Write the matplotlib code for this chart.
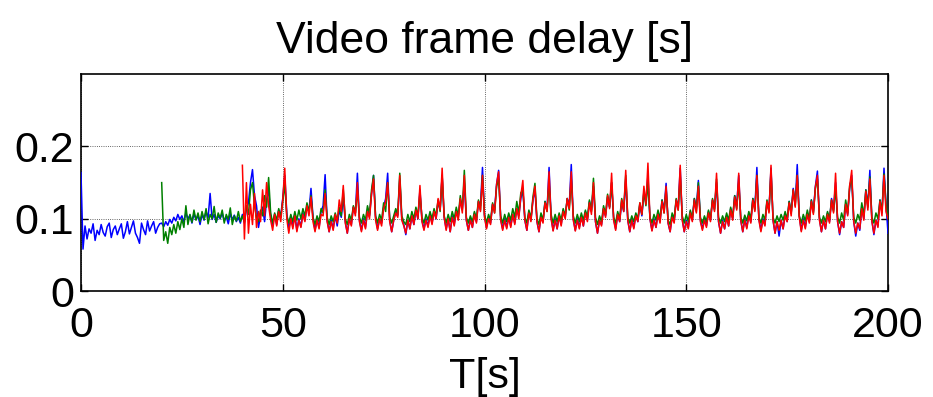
import numpy as np
import matplotlib
matplotlib.use("Agg")
import matplotlib.pyplot as plt

# sample step 0.5 s; values in milliseconds (delay*1000)
STEP = 0.5
blue_start = 0.0
blue_ms = [
    164, 58, 90, 72, 86, 80, 93, 70, 84, 78,
    92, 81, 76, 89, 94, 74, 85, 90, 78, 86,
    93, 73, 82, 96, 79, 88, 97, 80, 74, 66,
    94, 85, 78, 97, 83, 90, 96, 80, 88, 93,
    94, 89, 96, 91, 99, 94, 102, 97, 106, 99,
    104, 96, 108, 100, 105, 94, 107, 99, 104, 92,
    106, 98, 110, 101, 135, 99, 106, 95, 104, 100,
    108, 97, 103, 93, 107, 99, 105, 96, 102, 94,
    106, 94, 114, 122, 150, 168, 132, 118, 88, 106,
    116, 96, 126, 140, 104, 90, 106, 92, 112, 104,
    128, 160, 108, 86, 102, 90, 106, 84, 100, 89,
    108, 98, 118, 110, 142, 102, 84, 100, 88, 110,
    118, 161, 98, 82, 98, 86, 104, 90, 112, 102,
    130, 96, 80, 100, 92, 116, 108, 163, 98, 84,
    100, 88, 112, 104, 134, 160, 102, 86, 100, 94,
    116, 128, 163, 98, 82, 98, 110, 104, 155, 100,
    92, 78, 98, 86, 104, 92, 112, 100, 140, 98,
    86, 100, 90, 106, 94, 110, 100, 124, 112, 160,
    102, 86, 100, 82, 104, 92, 112, 102, 126, 114,
    150, 98, 84, 100, 88, 108, 96, 124, 118, 171,
    104, 88, 102, 94, 120, 112, 148, 167, 100, 86,
    100, 88, 104, 90, 106, 94, 114, 104, 128, 140,
    98, 84, 110, 98, 126, 140, 96, 82, 104, 96,
    124, 112, 171, 102, 84, 100, 86, 104, 92, 112,
    102, 128, 118, 175, 100, 84, 100, 88, 104, 90,
    110, 98, 124, 112, 145, 96, 80, 98, 92, 114,
    104, 130, 116, 150, 100, 86, 106, 96, 124, 110,
    155, 98, 82, 100, 88, 106, 96, 120, 104, 136,
    122, 160, 100, 84, 100, 88, 108, 96, 126, 112,
    149, 94, 82, 104, 96, 126, 116, 170, 100, 82,
    98, 88, 110, 98, 128, 114, 153, 98, 86, 100,
    90, 110, 98, 126, 114, 150, 96, 80, 98, 86,
    104, 90, 114, 100, 132, 118, 160, 98, 82, 100,
    88, 106, 96, 128, 114, 171, 100, 84, 100, 92,
    124, 112, 170, 98, 80, 96, 76, 98, 86, 106,
    96, 124, 108, 142, 120, 175, 104, 84, 100, 88,
    108, 96, 126, 110, 145, 166, 100, 82, 98, 86,
    108, 96, 128, 112, 150, 96, 78, 96, 88, 120,
    106, 142, 160, 96, 76, 94, 84, 116, 100, 140,
    118, 167, 98, 78, 98, 90, 126, 108, 170, 120,
    80,
]

green_start = 20.0
green_ms = [
    150, 70, 82, 66, 88, 78, 92, 80, 96, 85,
    100, 88, 118, 92, 106, 95, 112, 98, 108, 96,
    110, 99, 114, 93, 106, 100, 117, 95, 108, 101,
    112, 94, 106, 99, 115, 92, 104, 97, 110, 96,
    104, 96, 118, 106, 140, 150, 118, 102, 96, 112,
    104, 132, 116, 157, 108, 94, 108, 98, 114, 102,
    124, 148, 104, 94, 106, 96, 110, 98, 112, 100,
    114, 104, 122, 110, 132, 102, 92, 104, 96, 114,
    108, 140, 102, 92, 104, 96, 108, 98, 116, 104,
    140, 100, 92, 106, 98, 118, 108, 140, 102, 94,
    106, 98, 118, 106, 140, 160, 104, 94, 106, 98,
    122, 110, 150, 102, 94, 104, 114, 106, 163, 104,
    96, 92, 106, 96, 110, 100, 116, 104, 135, 102,
    94, 106, 98, 110, 100, 114, 104, 126, 110, 160,
    104, 94, 106, 96, 110, 100, 116, 104, 132, 112,
    167, 102, 94, 104, 96, 110, 100, 126, 112, 160,
    106, 94, 106, 98, 122, 108, 145, 155, 104, 94,
    106, 96, 108, 98, 114, 102, 124, 108, 136, 140,
    102, 94, 112, 100, 130, 149, 100, 92, 108, 98,
    124, 110, 150, 106, 94, 106, 96, 108, 98, 114,
    104, 128, 112, 155, 104, 94, 106, 96, 108, 98,
    112, 102, 126, 110, 156, 102, 92, 104, 96, 118,
    106, 134, 116, 150, 102, 94, 110, 100, 128, 112,
    160, 102, 94, 104, 96, 108, 100, 122, 106, 138,
    118, 150, 102, 94, 106, 98, 112, 100, 126, 108,
    142, 98, 92, 108, 100, 128, 112, 160, 104, 94,
    106, 96, 112, 100, 128, 110, 150, 102, 94, 104,
    96, 112, 100, 128, 112, 155, 102, 94, 104, 96,
    108, 98, 116, 102, 132, 114, 150, 102, 94, 105,
    97, 110, 100, 128, 112, 160, 102, 94, 106, 98,
    126, 110, 165, 102, 94, 104, 96, 106, 98, 110,
    100, 124, 108, 140, 118, 160, 104, 94, 106, 97,
    112, 100, 126, 108, 142, 155, 102, 94, 104, 96,
    110, 100, 126, 110, 142, 102, 94, 108, 98, 126,
    108, 146, 155, 102, 94, 106, 98, 122, 104, 140,
    116, 158, 102, 94, 108, 100, 126, 110, 162, 120,
    100,
]

red_start = 40.0
red_ms = [
    174, 72, 150, 80, 120, 92, 135, 88, 110, 96,
    140, 104, 150, 118, 98, 84, 106, 90, 110, 96,
    126, 170, 100, 80, 100, 86, 104, 82, 98, 88,
    106, 96, 118, 104, 130, 96, 82, 98, 86, 106,
    104, 135, 96, 82, 96, 84, 106, 94, 126, 110,
    146, 94, 80, 100, 90, 116, 104, 150, 96, 82,
    98, 86, 110, 100, 134, 155, 98, 84, 100, 90,
    114, 124, 150, 96, 82, 98, 108, 102, 160, 98,
    90, 80, 98, 86, 104, 92, 112, 100, 146, 96,
    84, 98, 88, 104, 92, 110, 100, 128, 112, 170,
    102, 84, 100, 82, 102, 90, 110, 98, 128, 108,
    160, 98, 84, 98, 88, 106, 94, 124, 110, 160,
    102, 86, 100, 92, 120, 108, 148, 165, 98, 84,
    98, 86, 102, 88, 106, 92, 114, 100, 132, 153,
    98, 84, 108, 96, 126, 145, 96, 82, 102, 94,
    122, 110, 165, 100, 83, 98, 86, 104, 90, 110,
    100, 128, 114, 165, 98, 83, 98, 86, 102, 90,
    108, 96, 122, 106, 150, 96, 80, 98, 90, 114,
    102, 132, 114, 163, 98, 84, 106, 96, 126, 110,
    167, 98, 82, 98, 86, 104, 96, 122, 106, 145,
    120, 177, 100, 83, 98, 88, 106, 94, 124, 108,
    145, 94, 82, 102, 94, 126, 112, 174, 98, 82,
    96, 86, 108, 96, 126, 108, 145, 96, 84, 98,
    88, 108, 96, 126, 110, 163, 96, 80, 96, 86,
    102, 90, 112, 98, 130, 112, 163, 98, 82, 98,
    86, 104, 94, 126, 110, 160, 98, 82, 98, 90,
    124, 108, 174, 98, 80, 96, 84, 98, 86, 104,
    96, 122, 104, 140, 116, 160, 102, 82, 98, 86,
    106, 94, 124, 106, 144, 160, 98, 82, 98, 86,
    106, 94, 126, 108, 163, 96, 80, 96, 88, 120,
    104, 146, 167, 96, 80, 94, 86, 114, 98, 138,
    112, 155, 96, 80, 98, 88, 124, 104, 160, 110,
    100,
]

title = "Video frame delay [s]"
xlabel = "T[s]"
xticks = [0, 50, 100, 150, 200]
yticks = [0, 0.1, 0.2]
ytick_labels = ["0", "0.1", "0.2"]

plt.rcParams['font.family'] = ['Liberation Sans', 'DejaVu Sans']
FS = 31

fig = plt.figure(figsize=(9.33, 3.97), dpi=100)
ax = fig.add_axes([0.0868, 0.267, 0.865, 0.546])

series = [
    (blue_start, blue_ms, (0, 0, 1)),
    (green_start, green_ms, (0, 0.5, 0)),
    (red_start, red_ms, (1, 0, 0)),
]
for start, vals, col in series:
    v = np.array(vals, dtype=float) / 1000.0
    t = start + STEP * np.arange(len(v))
    ax.plot(t, v, color=col, lw=1.1, zorder=3)

ax.set_xlim(0, 200)
ax.set_ylim(0, 0.3)
ax.set_xticks(xticks)
ax.set_xticklabels([str(x) for x in xticks])
ax.set_yticks(yticks)
ax.set_yticklabels(ytick_labels)
ax.tick_params(direction='in', length=5, width=1, labelsize=FS, top=True, right=True)
ax.tick_params(axis='x', pad=11)
ax.tick_params(axis='y', pad=5)
ax.grid(True, color='black', linestyle=':', linewidth=0.6, alpha=0.8)
for s in ax.spines.values():
    s.set_linewidth(1.2)
ax.set_title(title, fontsize=32, pad=15)
ax.set_xlabel(xlabel, fontsize=FS, labelpad=8)

fig.savefig("out.png", dpi=100)
